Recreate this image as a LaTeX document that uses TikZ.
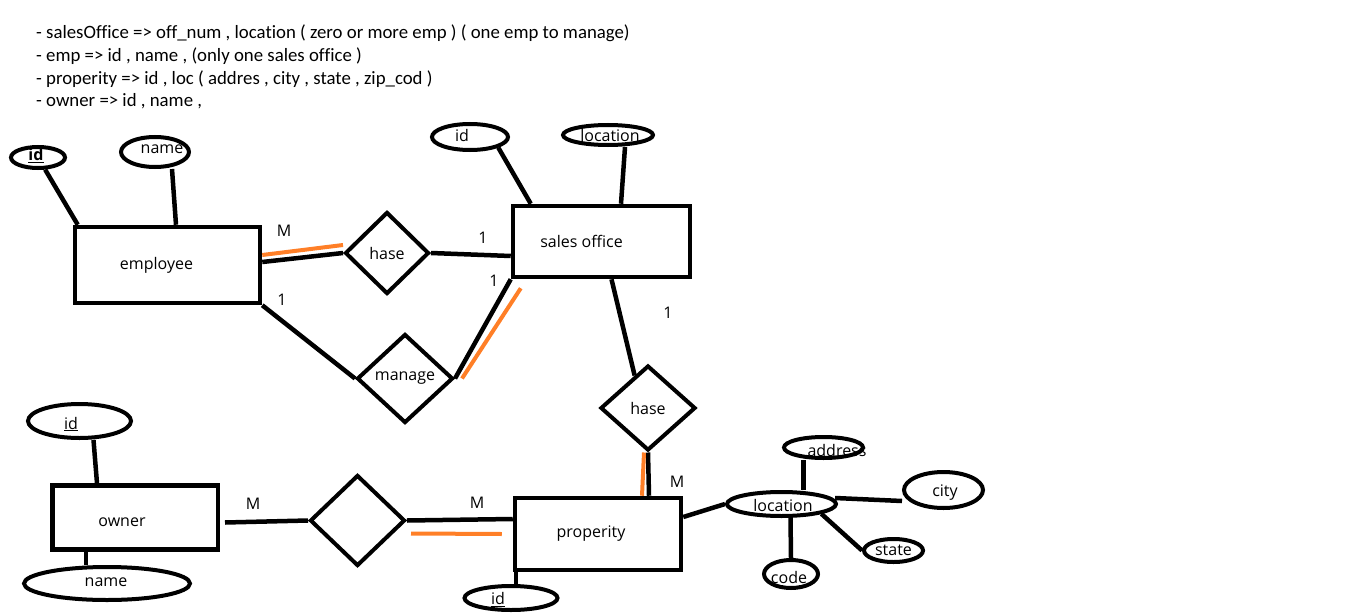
\documentclass[tikz,border=0pt]{standalone}
\usepackage{fontspec}
\setmainfont{Open Sans}[Ligatures=NoCommon]
\newfontfamily\notefont{Carlito}[Ligatures=NoCommon]
\usepackage{tikz}
\usetikzlibrary{shapes.geometric, calc}
\definecolor{paintOrange}{HTML}{FF7F27}

\tikzset{
  entity/.style={draw, rectangle, line width=4.5pt, inner sep=0pt},
  attr/.style={draw, ellipse, line width=4pt, inner sep=0pt},
  rel/.style={draw, diamond, line width=4pt, inner sep=0pt},
  link/.style={line width=4.5pt},
  total/.style={line width=4pt, paintOrange},
  card/.style={inner sep=0pt},
}

\begin{document}
\begin{tikzpicture}[x=1pt, y=-1pt, font=\fontsize{16}{19}\selectfont]
  \useasboundingbox (0,0) rectangle (1351,615);
  % ── notes on top ──
  \foreach \notetxt [count=\k from 0] in {
      {- salesOffice => off\_num , location ( zero or more emp ) ( one emp to manage)},
      {- emp => id , name , (only one sales office )},
      {- properity => id , loc ( addres , city , state , zip\_cod )},
      {- owner => id , name ,}} {
    \node[anchor=base west, inner sep=0pt, font=\notefont\fontsize{18.8}{22}\selectfont]
      (note\k) at (36, {38.5+22.8*\k}) {\notetxt};
  }
  % ── entities ──
  \node[entity, minimum width=185, minimum height=76,
    label={[xshift=-11]center:employee}] (employee) at (167.5,265) {};
  \node[entity, minimum width=177, minimum height=71,
    label={[xshift=-20]center:sales office}] (sales) at (601.5,241.5) {};
  \node[entity, minimum width=166, minimum height=72,
    label={[xshift=-7]center:properity}] (property) at (598,534) {};
  \node[entity, minimum width=165.5, minimum height=64,
    label={[xshift=-13, yshift=-5]center:owner}] (owner) at (135,517.5) {};
  % ── relationships ──
  \node[rel, minimum width=84, minimum height=82] (hase1) at (387,253) {hase};
  \node[rel, minimum width=96, minimum height=89] (manage) at (405,378.5) {manage};
  \node[rel, minimum width=95, minimum height=85] (hase2) at (648,408) {hase};
  \node[rel, minimum width=95, minimum height=91] (rel3) at (357.5,520.5) {};
  % ── attributes ──
  \node[attr, minimum width=54, minimum height=21,
    label={[xshift=-2, yshift=2]center:\textbf{\underline{id}}}] (eid) at (38,157.5) {};
  \node[attr, minimum width=68, minimum height=30,
    label={[xshift=7, yshift=3]center:name}] (ename) at (155,152) {};
  \node[attr, minimum width=76, minimum height=26,
    label={[xshift=-8, yshift=1]center:id}] (sid) at (470,137) {};
  \node[attr, minimum width=90, minimum height=20,
    label={[xshift=2]center:location}] (sloc) at (608,135) {};
  \node[attr, minimum width=103, minimum height=34,
    label={[xshift=-8.5, yshift=-3]center:\underline{id}}] (oid) at (79.5,421) {};
  \node[attr, minimum width=166, minimum height=33,
    label={[xshift=-1, yshift=1.5]center:name}] (oname) at (107,583.5) {};
  \node[attr, minimum width=93, minimum height=24,
    label={[xshift=-13, yshift=-1.5]center:\underline{id}}] (pid) at (511,598) {};
  \node[attr, minimum width=109, minimum height=24,
    label={[xshift=1.5, yshift=-1.5]center:location}] (ploc) at (781.5,504) {};
  \node[attr, minimum width=79, minimum height=21,
    label={[xshift=13.5, yshift=-2.5]center:address}] (addr) at (823.5,447.5) {};
  \node[attr, minimum width=79, minimum height=36,
    label={[xshift=1.5, yshift=-3]center:city}] (city) at (943.5,490) {};
  \node[attr, minimum width=59, minimum height=23,
    label={center:state}] (state) at (893.5,550.5) {};
  \node[attr, minimum width=54, minimum height=28,
    label={[xshift=-2, yshift=-3]center:code}] (code) at (791,574) {};
  % ── attribute links ──
  \draw[link] (eid) -- ([xshift=5]employee.north west);
  \draw[link] ([xshift=17]ename.south) -- ([xshift=8.5]employee.north);
  \draw[link] (sid.south east) -- ([xshift=20]sales.north west);
  \draw[link] ([xshift=17]sloc.south) -- ([xshift=19.5]sales.north);
  \draw[link] ([xshift=14]oid.south) -- ([xshift=-38]owner.north);
  \draw[link] ([xshift=-49]owner.south) -- ([xshift=-21]oname.north);
  \draw[link] ([xshift=-82]property.south) -- ([xshift=5]pid.north);
  \draw[link] ([yshift=17]property.east) -- (ploc.west);
  \draw[link] ([xshift=-20]addr.south) -- ([xshift=22]ploc.north);
  \draw[link] ([xshift=-3, yshift=6]ploc.east) -- ([yshift=-11]city.west);
  \draw[link] (ploc.south east) -- (state.west);
  \draw[link] ([xshift=9]ploc.south) -- (code.north);
  % ── relationship links (orange = total participation) ──
  \draw[link] ([yshift=3]employee.east) -- (hase1.west);
  \draw[total] ([yshift=10]employee.east) -- ([yshift=8]hase1.west);
  \draw[link] (hase1.east) -- ([yshift=-14.5]sales.west);
  \draw[link] (employee.south east) -- (manage.west);
  \draw[link] (manage.east) -- (sales.south west);
  \draw[total] ([xshift=7]manage.east) -- ([xshift=10, yshift=-9]sales.south west);
  \draw[link] ([xshift=10]sales.south) -- ($(hase2.north)!0.27!(hase2.west)$);
  \draw[link] (hase2.south) -- ([xshift=51]property.north);
  \draw[total] ([xshift=-4]hase2.south) -- ([xshift=44]property.north);
  \draw[link] ([xshift=5, yshift=-5]owner.east) -- (rel3.west);
  \draw[link] (rel3.east) -- ([yshift=15]property.west);
  \draw[total] ([xshift=4, yshift=-13]rel3.east) -- ([xshift=-11]property.west);
  % ── cardinalities ──
  \node[card] (cM1) at (284,231) {M};
  \node[card] (c11) at (483,238) {1};
  \node[card] (c12) at (282,300) {1};
  \node[card] (c13) at (494,281) {1};
  \node[card] (c14) at (668,313) {1};
  \node[card] (cM2) at (677,482) {M};
  \node[card] (cM3) at (253,504) {M};
  \node[card] (cM4) at (477,503) {M};
\end{tikzpicture}
\end{document}
